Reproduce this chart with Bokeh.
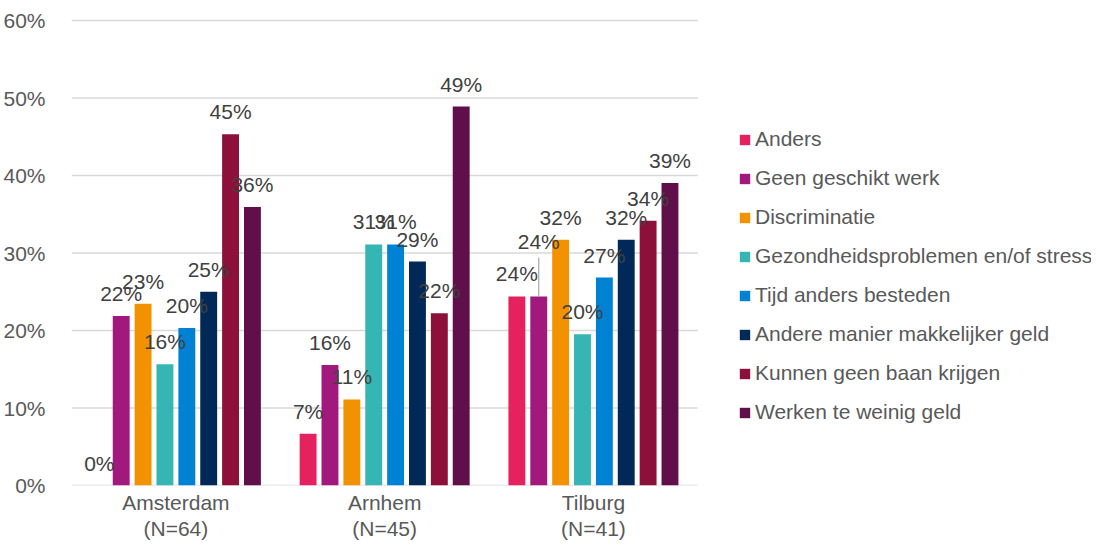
from bokeh.plotting import figure
from bokeh.models import (Range1d, ColumnDataSource, LabelSet, Legend, LegendItem,
                          FixedTicker, NumeralTickFormatter, LinearAxis)
from bokeh.transform import dodge
from bokeh.core.properties import value
from bokeh.embed import file_html
from bokeh.resources import INLINE
import math

# ---------------- data ----------------
cities = ["Amsterdam", "Arnhem", "Tilburg"]
sample_sizes = [64, 45, 41]
reasons = ["Anders", "Geen geschikt werk", "Discriminatie",
           "Gezondheidsproblemen en/of stress", "Tijd anders besteden",
           "Andere manier makkelijker geld", "Kunnen geen baan krijgen",
           "Werken te weinig geld"]
colors = ["#E6215F", "#A1197D", "#F39200", "#35B5B3",
          "#0082D4", "#002957", "#8C1039", "#600F4B"]

anders = [0.0, 0.0667, 0.2439]
geen_geschikt_werk = [0.2188, 0.1556, 0.2439]
discriminatie = [0.2344, 0.1111, 0.3171]
gezondheid_stress = [0.1563, 0.3111, 0.1951]
tijd_anders_besteden = [0.2031, 0.3111, 0.2683]
andere_manier_geld = [0.2500, 0.2889, 0.3171]
kunnen_geen_baan = [0.4531, 0.2222, 0.3415]
werken_weinig_geld = [0.3594, 0.4889, 0.3902]

series = [anders, geen_geschikt_werk, discriminatie, gezondheid_stress,
          tijd_anders_besteden, andere_manier_geld, kunnen_geen_baan,
          werken_weinig_geld]
y_ticks = [0.0, 0.1, 0.2, 0.3, 0.4, 0.5, 0.6]

# ---------------- layout / style ----------------
FONT = "Liberation Sans"
W, H = 1091, 544
ML, MR, MT, MB = 65, 0, 12, 59
frame_h = H - MT - MB
frame_w = W - ML - MR
cat_px = 210.0                       # width of one category in pixels
y_end = 0.6 * frame_h / 465.0
x_start = -0.5
x_end = x_start + frame_w / cat_px
x_idx = list(range(len(cities)))
cat_lo, cat_hi = -0.5, len(cities) - 0.5

p = figure(width=W, height=H, x_range=Range1d(x_start, x_end),
           y_range=Range1d(0, y_end), output_backend="svg", toolbar_location=None,
           min_border_left=ML, min_border_right=MR, min_border_top=MT,
           min_border_bottom=MB)
p.outline_line_color = None
p.background_fill_color = "white"
p.border_fill_color = "white"
p.xgrid.grid_line_color = None
p.ygrid.grid_line_color = None

# horizontal gridlines only across the category area
p.segment(x0=[cat_lo] * len(y_ticks), x1=[cat_hi] * len(y_ticks), y0=y_ticks, y1=y_ticks,
          line_color="#D9D9D9", line_width=1.5)

n = len(reasons)
step = 22.0 / cat_px
bar_w = 17.0 / cat_px

# label lifted (with leader line) in the reference
lifted = {("Tilburg", "Geen geschikt werk"): 32}

items = []
for i, (name, vals, col) in enumerate(zip(reasons, series, colors)):
    off = (i - (n - 1) / 2.0) * step
    lift = [lifted.get((c, name), 0) for c in cities]
    src = ColumnDataSource(dict(xi=x_idx, v=vals,
                                lbl=[f"{round(v * 100)}%" for v in vals],
                                yoff=[15 + l for l in lift]))
    xd = dodge("xi", off)
    r = p.vbar(x=xd, top="v", width=bar_w, source=src, fill_color=col,
               line_color=None)
    items.append(LegendItem(label=name, renderers=[r]))
    lead_idx = [k for k, l in enumerate(lift) if l]
    if lead_idx:
        lsrc = ColumnDataSource(dict(xi=[x_idx[k] for k in lead_idx],
                                     v=[vals[k] for k in lead_idx],
                                     lead=[lift[k] + 7 for k in lead_idx]))
        p.ray(x=dodge("xi", off), y="v", length="lead",
              angle=math.pi / 2, length_units="screen", source=lsrc,
              line_color="#A6A6A6", line_width=1.2)
    ls = LabelSet(x=xd, y="v", text="lbl", source=src, y_offset="yoff",
                  text_align="center", text_baseline="alphabetic",
                  text_font=value(FONT), text_font_size="21px",
                  text_color="#404040")
    p.add_layout(ls)

# axes
p.yaxis.ticker = FixedTicker(ticks=y_ticks)
p.yaxis.formatter = NumeralTickFormatter(format="0%")
p.yaxis.axis_line_color = None
p.yaxis.major_tick_line_color = None
p.yaxis.minor_tick_line_color = None
p.yaxis.major_label_standoff = 20
p.yaxis.major_label_text_font = FONT
p.yaxis.major_label_text_font_size = "21px"
p.yaxis.major_label_text_color = "#595959"


def style_x(ax, standoff):
    ax.ticker = FixedTicker(ticks=x_idx)
    ax.axis_line_color = None
    ax.major_tick_line_color = None
    ax.minor_tick_line_color = None
    ax.major_tick_out = 0
    ax.major_tick_in = 0
    ax.major_label_standoff = standoff
    ax.major_label_text_font = FONT
    ax.major_label_text_font_size = "21px"
    ax.major_label_text_color = "#595959"


xa = p.xaxis[0]
style_x(xa, 5)
xa.major_label_overrides = {k: c for k, c in zip(x_idx, cities)}

xn = LinearAxis()
style_x(xn, 0)
xn.major_label_overrides = {k: f"(N={s})" for k, s in zip(x_idx, sample_sizes)}
p.add_layout(xn, "below")

legend = Legend(items=items, location=(667, 58), orientation="vertical",
                glyph_width=13, glyph_height=13, label_height=30, spacing=9,
                label_standoff=4, padding=0, margin=0,
                label_text_font=FONT, label_text_font_size="21px",
                label_text_color="#595959", border_line_color=None,
                background_fill_alpha=0)
p.add_layout(legend)

open("out.html", "w").write(file_html(p, INLINE))
